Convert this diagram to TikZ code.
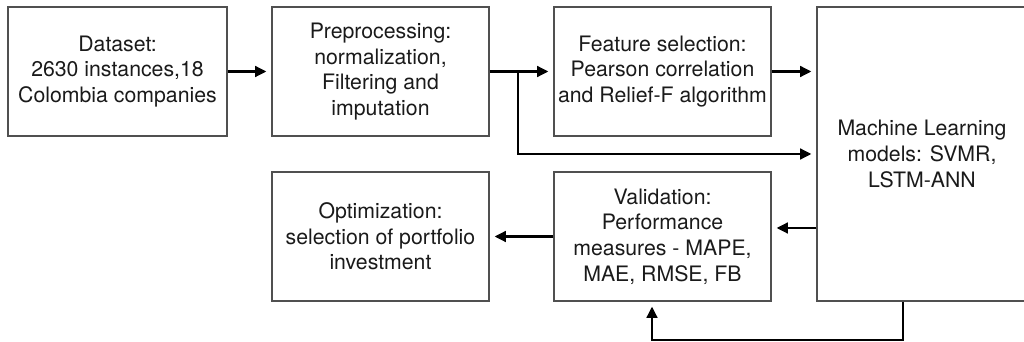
\documentclass[tikz,border=0pt]{standalone}
\usepackage{fontspec}
\setmainfont{TeX Gyre Heros}
\usepackage{xcolor}
\usetikzlibrary{arrows.meta,positioning,calc}
\definecolor{boxline}{HTML}{505050}
\definecolor{txt}{HTML}{1A1A1A}
\tikzset{
  blk/.style={draw=boxline,line width=0.85pt,align=center,text=txt,
              font=\fontsize{12.1}{14.6}\selectfont,
              minimum width=4.34cm,minimum height=2.58cm,inner sep=0pt},
  sig/.style={-{Triangle[length=6.4pt,width=6.2pt]},line width=1.15pt,
              shorten >=2.8pt}
}

\begin{document}
\begin{tikzpicture}
  \useasboundingbox (0,0) rectangle (20.48,6.84);
  % ---- upper row ----
  \node[blk,minimum width=4.38cm] (data) at (2.35,5.41) {Dataset:\\ 2630 instances,18\\ Colombia companies};
  \node[blk] (prep) at (7.61,5.41) {Preprocessing:\\ normalization,\\ Filtering and\\ imputation};
  \node[blk] (feat) at (13.25,5.41) {Feature selection:\\ Pearson correlation\\ and Relief-F algorithm};
  \node[blk,minimum width=4.2cm,minimum height=5.88cm] (ml) at (18.44,3.76) {Machine Learning\\ models: SVMR,\\ LSTM-ANN};
  % ---- lower row ----
  \node[blk] (valid) at (13.25,2.11) {Validation:\\ Performance\\ measures - MAPE,\\ MAE, RMSE, FB};
  \node[blk] (opt) at (7.61,2.11) {Optimization:\\ selection of portfolio\\ investment};
  % forward wires
  \coordinate (split) at (10.36,5.41);
  \draw[sig] (data)--(prep);
  \draw[sig] (prep.east)--(feat.west);
  \draw[sig] (split) |- (ml.west);
  \draw[sig] (feat.east)--(feat.east -| ml.west);
  % back towards validation / optimization
  \draw[sig] ([yshift=0.17cm]valid.east -| ml.west)--([yshift=0.17cm]valid.east);
  \draw[sig] (valid.west)--(opt.east);
  % loop under the models box
  \coordinate (loop) at (18.06,0.04);
  \draw[sig] ([xshift=-0.38cm]ml.south) |- (loop) -| ([xshift=-0.21cm]valid.south);
\end{tikzpicture}
\end{document}
